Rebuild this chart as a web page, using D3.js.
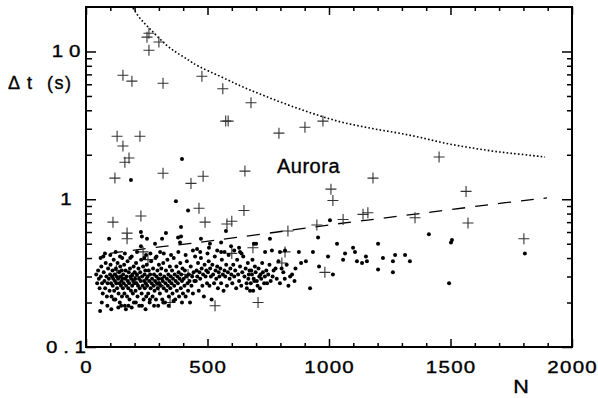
<!DOCTYPE html>
<html><head><meta charset="utf-8">
<script src="https://cdn.jsdelivr.net/npm/d3@7"></script>
<style>
body{margin:0;background:#fff;}
svg{display:block;font-family:"Liberation Sans",Arial,Helvetica,sans-serif;}
</style></head><body>
<svg id="c" width="598" height="398"></svg>
<script>
// ---------- data ----------
const xTickValues = d3.range(0, 2001, 100);
const xMajorTicks = [0, 500, 1000, 1500, 2000];
const xTickLabels = ["0", "500", "1000", "1500", "2000"];
const yMajorTicks = [0.1, 1, 10];
const yTickLabels = ["0.1", "1", "10"];
const yMinorTicks = [0.2,0.3,0.4,0.5,0.6,0.7,0.8,0.9,2,3,4,5,6,7,8,9];

// events plotted as dots [N, dt]
const dots = [
 [42,0.31],[46,0.27],[50,0.33],[53,0.29],[56,0.25],[58,0.175],[61,0.30],[63,0.35],[66,0.27],[69,0.23],[71,0.41],[73,0.32],[76,0.28],[79,0.25],[81,0.37],[84,0.30],[86,0.22],[89,0.27],[91,0.34],[94,0.29],[97,0.24],[99,0.31],
 [101,0.36],[103,0.27],[105,0.22],[107,0.30],[109,0.33],[110,0.26],[112,0.29],[114,0.39],[116,0.24],[118,0.31],[119,0.28],[121,0.21],[123,0.34],[125,0.27],[127,0.30],[128,0.25],[130,0.37],[132,0.29],[134,0.23],[136,0.32],[137,0.27],[139,0.20],[141,0.35],[143,0.30],[144,0.26],[146,0.28],[147,0.33],[148,0.22],[149,0.40],[150,0.29],
 [152,0.25],[153,0.31],[155,0.27],[157,0.36],[158,0.23],[160,0.19],[162,0.29],[163,0.33],[165,0.26],[167,0.30],[169,0.22],[171,0.38],[172,0.28],[174,0.25],[176,0.32],[178,0.27],[179,0.21],[181,0.34],[183,0.30],[185,0.24],[186,0.29],[188,0.41],[190,0.26],[191,0.31],[193,0.23],[194,0.28],[196,0.35],[197,0.20],[199,0.27],[200,0.32],
 [202,0.29],[204,0.24],[206,0.37],[208,0.27],[210,0.31],[212,0.22],[214,0.26],[216,0.34],[218,0.29],[219,0.19],[221,0.25],[223,0.32],[225,0.28],[227,0.39],[229,0.23],[231,0.30],[233,0.26],[235,0.35],[237,0.21],[239,0.28],[241,0.31],[242,0.25],[244,0.33],[246,0.27],[247,0.42],[248,0.22],[249,0.29],[250,0.36],
 [252,0.26],[254,0.30],[256,0.23],[258,0.33],[260,0.28],[262,0.20],[264,0.31],[266,0.25],[268,0.38],[270,0.27],[272,0.29],[274,0.22],[276,0.34],[278,0.26],[280,0.31],[282,0.24],[284,0.28],[286,0.40],[288,0.21],[290,0.30],[292,0.27],[294,0.33],[295,0.25],[297,0.19],[298,0.29],[300,0.36],
 [302,0.27],[304,0.23],[306,0.31],[308,0.26],[310,0.34],[312,0.29],[314,0.21],[316,0.28],[318,0.37],[320,0.25],[322,0.30],[325,0.20],[327,0.27],[329,0.33],[331,0.24],[333,0.29],[335,0.39],[337,0.26],[339,0.31],[341,0.22],[343,0.28],[345,0.35],[347,0.25],[349,0.30],
 [352,0.27],[354,0.33],[356,0.23],[358,0.29],[361,0.40],[363,0.26],[365,0.31],[367,0.21],[369,0.28],[372,0.35],[374,0.24],[376,0.30],[378,0.27],[381,0.32],[383,0.22],[385,0.29],[388,0.37],[390,0.25],[392,0.31],[395,0.28],[397,0.34],[399,0.23],
 [402,0.29],[405,0.26],[407,0.33],[410,0.22],[412,0.30],[415,0.38],[418,0.27],[420,0.24],[423,0.31],[426,0.28],[428,0.20],[431,0.35],[434,0.26],[437,0.30],[440,0.23],[443,0.32],[446,0.28],[449,0.41],
 [452,0.28],[455,0.33],[458,0.30],[461,0.37],[464,0.24],[467,0.32],[470,0.29],[473,0.40],[476,0.34],[479,0.26],[482,0.31],[485,0.22],[488,0.36],[492,0.30],[495,0.33],[498,0.27],
 [502,0.32],[505,0.38],[508,0.26],[511,0.34],[514,0.30],[517,0.21],[520,0.36],[523,0.31],[527,0.27],[530,0.41],[533,0.33],[536,0.29],[540,0.35],[543,0.25],[546,0.32],[549,0.30],
 [553,0.34],[556,0.27],[559,0.39],[563,0.31],[566,0.24],[570,0.33],[573,0.30],[577,0.36],[580,0.26],[584,0.32],[587,0.42],[591,0.29],[594,0.34],[598,0.31],
 [602,0.27],[606,0.36],[610,0.30],[614,0.33],[618,0.25],[622,0.39],[626,0.31],[630,0.28],[634,0.35],[639,0.26],[643,0.32],[647,0.41],
 [652,0.30],[657,0.34],[661,0.27],[666,0.37],[670,0.31],[675,0.24],[680,0.33],[685,0.39],[690,0.29],[695,0.35],
 [703,0.28],[710,0.34],[718,0.31],[725,0.37],[733,0.27],[742,0.33],[755,0.36],[768,0.30],[780,0.34],[792,0.38],
 [812,0.32],[826,0.36],[840,0.30],[862,0.34],[885,0.37],
 [662,0.25],[668,0.29],[673,0.33],[678,0.27],[683,0.31],[688,0.24],[693,0.28],[698,0.32],[706,0.26],[713,0.30],
 [716,0.25],[721,0.29],[728,0.32],[736,0.30],[745,0.27],[750,0.31],[760,0.28],[772,0.33],[785,0.29],[798,0.27],
 [805,0.34],[818,0.29],[833,0.26],[848,0.31],[858,0.28],
 // lower edge of the cluster
 [65,0.20],[88,0.19],[104,0.18],[115,0.21],[133,0.185],[145,0.19],[164,0.18],[175,0.19],[188,0.185],[205,0.20],
 [230,0.19],[245,0.18],[263,0.21],[280,0.19],[318,0.20],[340,0.19],[360,0.205],[395,0.20],
 // upper edge of the cluster
 [60,0.40],[78,0.43],[100,0.42],[122,0.44],[140,0.41],[160,0.43],[182,0.40],[210,0.44],[240,0.40],[265,0.43],
 [290,0.41],[320,0.43],[350,0.42],[380,0.44],[410,0.42],[440,0.45],[470,0.44],[500,0.43],[540,0.45],[570,0.44],
 [610,0.45],[640,0.43],
 // sparse upper / right dots
 [185,1.35],[395,1.87],[370,0.97],[420,0.84],[95,0.54],[226,0.60],[230,0.56],[251,0.54],[329,0.59],[313,0.54],
 [391,0.65],[379,0.55],[391,0.56],[387,0.51],[226,0.48],[284,0.50],[305,0.44],[473,0.54],[457,0.46],[510,0.50],
 [506,0.47],[556,0.51],[576,0.61],[597,0.48],[630,0.47],[634,0.44],[556,0.44],[691,0.50],[700,0.50],[757,0.54],
 [737,0.44],[765,0.45],[798,0.44],[819,0.45],[876,0.44],[934,0.44],[955,0.55],[1004,0.72],[905,0.38],[922,0.25],
 [959,0.35],[996,0.41],[1016,0.31],[1033,0.50],[1058,0.39],[1066,0.43],[1099,0.47],[1107,0.44],[1115,0.38],[1136,0.37],
 [1152,0.41],[1156,0.38],[1202,0.50],[1202,0.335],[1222,0.40],[1263,0.38],[1263,0.32],[1272,0.42],[1313,0.42],[1333,0.38],
 [1411,0.58],[1494,0.27],[1502,0.51],[1506,0.53],[1806,0.43]
];

// events plotted as crosses [N, dt]
const crosses = [
 [251,12.5],[259,13.3],[300,11.6],[259,10.2],[152,6.9],[189,6.3],[317,6.1],[477,6.8],[563,5.6],[679,4.5],
 [575,3.38],[585,3.38],[794,2.8],[901,3.07],[975,3.38],[128,2.67],[222,2.67],[152,2.29],[177,1.9],[160,1.78],
 [119,1.39],[317,1.5],[432,1.28],[482,1.43],[654,1.55],[1181,1.39],[1008,1.17],[1453,1.93],[1564,1.13],[111,0.70],
 [226,0.77],[169,0.59],[169,0.54],[235,0.44],[255,0.39],[346,0.20],[465,0.87],[490,0.70],[580,0.68],[600,0.71],
 [650,0.84],[831,0.61],[950,0.67],[1016,0.98],[1058,0.73],[1140,0.79],[1160,0.81],[600,0.43],[687,0.47],[819,0.44],
 [806,0.37],[983,0.32],[531,0.19],[708,0.20],[1354,0.75],[1572,0.69],[1802,0.54],
 [125,0.33],[205,0.30],[300,0.26],[420,0.31]
];

// dashed reference line [N, dt]
const dashedLine = [[99,0.43],[270,0.47],[428,0.50],[613,0.55],[840,0.616],[1025,0.68],[1210,0.74],[1415,0.816],[1737,0.955],[1897,1.02]];
// dotted reference curve [N, dt]
const dottedLine = [[193,19.7],[222,16.6],[255,14.7],[292,12.7],[333,10.9],[374,9.77],[416,8.9],[457,7.97],[551,6.82],[634,5.84],[716,5.15],[798,4.55],[881,4.07],[963,3.66],[1045,3.33],[1128,3.12],[1210,2.94],[1292,2.80],[1374,2.63],[1457,2.43],[1539,2.29],[1621,2.18],[1704,2.08],[1786,2.02],[1889,1.93]];

// ---------- drawing ----------
const svg = d3.select("#c");
const L = 86, R = 572, T = 7, B = 347;
const x = d3.scaleLinear().domain([0, 2000]).range([L, R]);
const y = d3.scaleLog().domain([0.1, 20]).range([B, T]);

svg.append("defs").append("clipPath").attr("id","clip")
  .append("rect").attr("x",L).attr("y",T).attr("width",R-L).attr("height",B-T);

function ticks(axis, tr, vals, size) {
  const g = svg.append("g").attr("transform", tr)
    .call(axis.tickValues(vals).tickSize(size).tickFormat(""));
  g.select(".domain").remove();
  g.selectAll(".tick line").attr("stroke","#000").attr("stroke-width",1.5);
  return g;
}
const xMinor = xTickValues.filter(v => !xMajorTicks.includes(v));
ticks(d3.axisBottom(x), `translate(0,${B})`, xMajorTicks, -8);
ticks(d3.axisBottom(x), `translate(0,${B})`, xMinor, -4);
ticks(d3.axisTop(x), `translate(0,${T})`, xMajorTicks, -8);
ticks(d3.axisTop(x), `translate(0,${T})`, xMinor, -4);
ticks(d3.axisLeft(y), `translate(${L},0)`, yMajorTicks, -10);
ticks(d3.axisLeft(y), `translate(${L},0)`, yMinorTicks, -6);
ticks(d3.axisRight(y), `translate(${R},0)`, yMajorTicks, -10);
ticks(d3.axisRight(y), `translate(${R},0)`, yMinorTicks, -5);

svg.append("rect").attr("x",L).attr("y",T).attr("width",R-L).attr("height",B-T)
  .attr("fill","none").attr("stroke","#000").attr("stroke-width",2);

function addText(str, px, py, o) {
  const t = svg.append("text")
    .attr("transform", `translate(${px},${py}) scale(${o.sx||1},1)`)
    .attr("font-size", o.size).attr("text-anchor", o.anchor || "middle")
    .attr("fill","#000").attr("stroke","#000").attr("stroke-width",0.35)
    .style("letter-spacing", (o.ls||0) + "px").text(str);
  if (o.ls && (o.anchor||"middle") === "middle") t.attr("dx", o.ls/2);
  return t;
}
xMajorTicks.forEach((v,i) => addText(xTickLabels[i], x(v), 373, {size:16, sx:1.28, ls:1}));
yMajorTicks.forEach((v,i) => addText(yTickLabels[i], 66, y(v)+6, {size:16, sx:1.28, ls:4.5}));

addText("N", 521, 393, {size:18, sx:1.2});
addText("Aurora", 277, 173, {size:20, anchor:"start", ls:0.5});

const yl = svg.append("text").attr("font-size",18).attr("fill","#000")
  .attr("stroke","#000").attr("stroke-width",0.35).attr("y",89);
yl.append("tspan").attr("x",8).text("Δ");
yl.append("tspan").attr("x",27).text("t");
yl.append("tspan").attr("x",47).style("letter-spacing","1.5px").text("(s)");

const plot = svg.append("g").attr("clip-path","url(#clip)");
const line = d3.line().x(d => x(d[0])).y(d => y(d[1]));
plot.append("path").datum(dottedLine)
  .attr("d", line.curve(d3.curveBasis))
  .attr("fill","none").attr("stroke","#000").attr("stroke-width",1.6)
  .attr("stroke-dasharray","1.6,2.2");
plot.append("path").datum(dashedLine)
  .attr("d", d3.line().x(d => x(d[0])).y(d => y(d[1])).curve(d3.curveBasis))
  .attr("fill","none").attr("stroke","#000").attr("stroke-width",1.3)
  .attr("stroke-dasharray","13,10");

plot.selectAll("path.cross").data(crosses).enter().append("path")
  .attr("class","cross")
  .attr("d", d => `M${x(d[0])-5.5},${y(d[1])}h11M${x(d[0])},${y(d[1])-5.5}v11`)
  .attr("stroke","#333").attr("stroke-width",1.1).attr("fill","none");

plot.selectAll("circle.dot").data(dots).enter().append("circle")
  .attr("class","dot")
  .attr("cx", d => x(d[0])).attr("cy", d => y(d[1])).attr("r",2)
  .attr("fill","#000");
</script>
</body></html>
